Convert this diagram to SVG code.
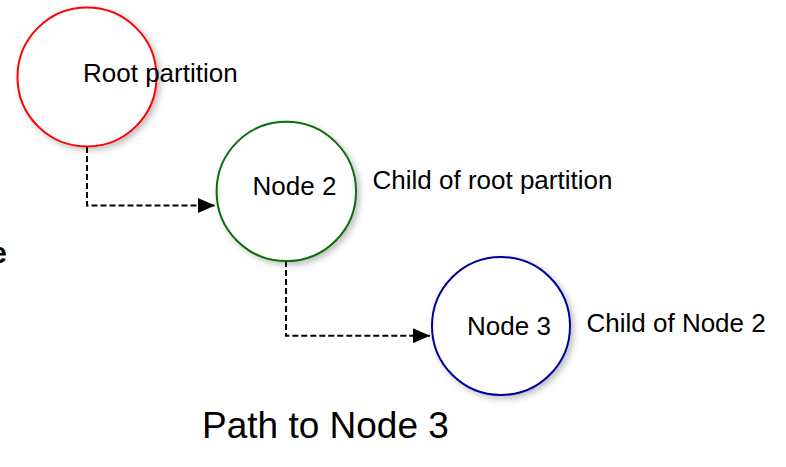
<svg xmlns="http://www.w3.org/2000/svg" width="786" height="467" viewBox="0 0 786 467">
  <style>
    text { font-family: "Liberation Sans", Arial, sans-serif; fill: #000; }
    .lbl { font-size: 26px; }
    .big { font-size: 37px; }
    .edge { font-size: 30px; font-weight: bold; }
    .node { fill: #fff; stroke-width: 2; filter: url(#shadow); }
    .conn { fill: none; stroke: #000; stroke-width: 2; stroke-dasharray: 6 3; }
  </style>
  <defs>
    <filter id="shadow" x="-20%" y="-20%" width="150%" height="150%">
      <feDropShadow dx="3" dy="3" stdDeviation="3" flood-color="#000" flood-opacity="0.25"/>
    </filter>
    <marker id="arrow" viewBox="0 0 17 15" refX="17" refY="7.5" markerWidth="17" markerHeight="15" markerUnits="userSpaceOnUse" orient="auto">
      <path d="M0,0 L17,7.5 L0,15 Z" fill="#000"/>
    </marker>
  </defs>

  <g id="connectors">
    <path class="conn" d="M87,147 V205.5 H215" marker-end="url(#arrow)"/>
    <path class="conn" d="M286,261 V335.7 H430" marker-end="url(#arrow)"/>
  </g>

  <g id="root">
    <circle class="node" cx="87" cy="77" r="69.5" stroke="#ff0000"/>
    <text class="lbl" x="83" y="82">Root partition</text>
  </g>

  <g id="node2">
    <circle class="node" cx="286.3" cy="191.4" r="69.7" stroke="#0a6e0a"/>
    <text class="lbl" x="252.5" y="195">Node 2</text>
    <text class="lbl" x="372.5" y="188.5">Child of root partition</text>
  </g>

  <g id="node3">
    <circle class="node" cx="501" cy="326" r="69" stroke="#00009c"/>
    <text class="lbl" x="467" y="335">Node 3</text>
    <text class="lbl" x="586.5" y="332">Child of Node 2</text>
  </g>

  <text class="edge" x="7" y="263" text-anchor="end">e</text>
  <text class="big" x="202" y="438">Path to Node 3</text>
</svg>
